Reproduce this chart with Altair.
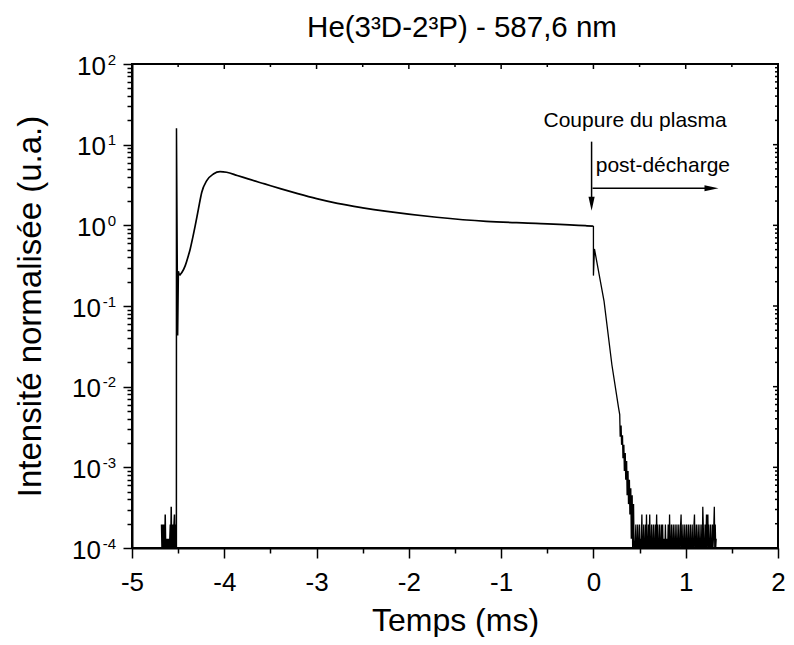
import altair as alt
import pandas as pd

# ---------------- data ----------------
TITLE = "He(3³D-2³P) - 587,6 nm"
X_TITLE = "Temps (ms)"
Y_TITLE = "Intensité normalisée (u.a.)"

X_MAJOR = [-5, -4, -3, -2, -1, 0, 1, 2]
X_MINOR = [-4.5, -3.5, -2.5, -1.5, -0.5, 0.5, 1.5]
Y_MAJOR = [1e2, 1e1, 1e0, 1e-1, 1e-2, 1e-3, 1e-4]
Y_EXP = ["2", "1", "0", "-1", "-2", "-3", "-4"]
Y_MINOR = [m * 10.0 ** d for d in range(-4, 2) for m in range(2, 10)]

# detector noise levels (quantised) and the level codes read per sample
NOISE_LEVELS = [1.0e-4, 1.3e-4, 1.95e-4, 2.6e-4, 3.25e-4]
PRE_T0, PRE_DT = -4.68, 0.005
PRE_CODES = "2020202030" "1010101012" "0402020230" "202"

# ignition spike
SPIKE_T = [-4.519, -4.518, -4.505, -4.497, -4.485]
SPIKE_V = [1.0e-4, 16.0, 0.043, 0.27, 0.24]

# smooth discharge signal
SMOOTH_T = [-4.485, -4.46, -4.423, -4.395, -4.369, -4.34, -4.315, -4.28, -4.244,
            -4.19, -4.118, -4.046, -3.975, -3.86, -3.742, -3.562, -3.384, -3.204,
            -3.0, -2.774, -2.5, -2.237, -1.699, -1.161, -0.624, -0.086, -0.005]
SMOOTH_V = [0.24, 0.26, 0.317, 0.40, 0.51, 0.72, 0.99, 1.6, 2.57,
            3.58, 4.33, 4.63, 4.55, 4.15, 3.76, 3.26, 2.83, 2.47,
            2.14, 1.87, 1.65, 1.49, 1.26, 1.12, 1.06, 0.99, 0.975]

# plasma cut-off and decay
CUT_T = [-0.005, 0.0, 0.0, 0.011, 0.115, 0.20, 0.272]
CUT_V = [0.975, 0.97, 0.238, 0.51, 0.115, 0.0187, 0.0055]
TAIL_T = [0.285, 0.29, 0.30, 0.305, 0.315, 0.32, 0.33, 0.335, 0.345, 0.35, 0.36,
          0.365, 0.375, 0.38, 0.39, 0.395, 0.405, 0.41, 0.42, 0.425, 0.435, 0.44]
TAIL_V = [4.5e-3, 2.4e-3, 3.3e-3, 1.9e-3, 2.5e-3, 1.3e-3, 1.9e-3, 9e-4, 1.5e-3, 7e-4, 1.2e-3,
          4.5e-4, 9e-4, 3.5e-4, 7e-4, 2.6e-4, 5.5e-4, 1.3e-4, 4.5e-4, 1e-4, 3.5e-4, 1e-4]
FLOOR_T0, FLOOR_DT = 0.45, 0.005
FLOOR_CODES = ("0120102010" "2010130102" "0102030102" "0130102010" "2010201302"
               "0102010201" "2010102010" "1020030102" "0102010201" "0201020102"
               "3010201020" "1020102010" "2010201023" "0102010201" "0201020420"
               "1020130230" "2010201020" "1240201")

# annotations
ANN_TEXT = ["Coupure du plasma", "post-décharge"]
ANN_X = [0.452, 0.025]
ANN_Y = [19.8, 5.5]
ARROW_DOWN = {"x": -0.02, "y1": 10.9, "y2": 1.8, "tip": 1.52}
ARROW_RIGHT = {"y": 2.88, "x1": -0.01, "x2": 1.29, "tip": 1.355}

# ---------------- build tables ----------------
pre_t = [PRE_T0 + k * PRE_DT for k in range(len(PRE_CODES))]
pre_v = [NOISE_LEVELS[int(c)] for c in PRE_CODES]
floor_t = [FLOOR_T0 + k * FLOOR_DT for k in range(len(FLOOR_CODES))]
floor_v = [NOISE_LEVELS[int(c)] for c in FLOOR_CODES]

t1 = pre_t + SPIKE_T
v1 = pre_v + SPIKE_V
df1 = pd.DataFrame({"t": t1, "v": v1, "i": range(len(t1))})
df2 = pd.DataFrame({"t": SMOOTH_T, "v": SMOOTH_V, "i": range(len(SMOOTH_T))})
t3 = CUT_T + TAIL_T + floor_t
v3 = CUT_V + TAIL_V + floor_v
df3 = pd.DataFrame({"t": t3, "v": v3, "i": range(len(t3))})

FONT = "Liberation Sans"
W, H = 646, 484
xs = alt.Scale(domain=[-5, 2], nice=False, zero=False)
ys = alt.Scale(type="log", domain=[1e-4, 100], nice=False, clamp=True)

MAJOR_Y_TEST = "abs(log(datum.value)/LN10 - round(log(datum.value)/LN10)) < 0.001"

x_axis = alt.Axis(
    values=X_MAJOR + X_MINOR,
    labelExpr="datum.value % 1 === 0 ? toString(datum.value) : ''",
    tickSize={"condition": {"test": "datum.value % 1 === 0", "value": 10}, "value": 5},
    tickWidth=1.5, tickColor="black", domainColor="black", domainWidth=2,
    labelFont=FONT, labelFontSize=26, labelColor="black", labelPadding=11,
    labelFlush=False, labelOverlap=False, labelBound=False, grid=False,
    title=X_TITLE, titleFont=FONT, titleFontSize=32, titleFontWeight="normal",
    titleColor="black", titleY=72.5, titleBaseline="middle",
)
y_axis = alt.Axis(
    values=Y_MAJOR + Y_MINOR, labels=False,
    tickSize={"condition": {"test": MAJOR_Y_TEST, "value": 9}, "value": 5},
    tickWidth=1.5, tickColor="black", domainColor="black", domainWidth=2, grid=False,
    title=Y_TITLE, titleFont=FONT, titleFontSize=33, titleFontWeight="normal",
    titleColor="black", titleX=-102, titleY=H / 2, titleAngle=270,
    titleBaseline="middle", titleAlign="center",
)


def X(field, **kw):
    return alt.X(field, scale=xs, axis=x_axis, **kw)


def Y(field, **kw):
    return alt.Y(field, scale=ys, axis=y_axis, **kw)


line1 = alt.Chart(df1).mark_line(color="black", strokeWidth=1.5).encode(
    x=X("t:Q"), y=Y("v:Q"), order="i:Q")
line2 = alt.Chart(df2).mark_line(color="black", strokeWidth=1.7, interpolate="monotone").encode(
    x=X("t:Q"), y=Y("v:Q"), order="i:Q")
line3 = alt.Chart(df3).mark_line(color="black", strokeWidth=1.3).encode(
    x=X("t:Q"), y=Y("v:Q"), order="i:Q")

# inward ticks on top and right
top_df = pd.DataFrame({"x": X_MAJOR + X_MINOR,
                       "major": [True] * len(X_MAJOR) + [False] * len(X_MINOR)})
top_major = alt.Chart(top_df).transform_filter("datum.major").mark_rule(
    color="black", strokeWidth=1.5).encode(x=X("x:Q"), y=alt.value(0), y2=alt.value(5))
top_minor = alt.Chart(top_df).transform_filter("!datum.major").mark_rule(
    color="black", strokeWidth=1.5).encode(x=X("x:Q"), y=alt.value(0), y2=alt.value(3))
right_df = pd.DataFrame({"y": Y_MAJOR + Y_MINOR,
                         "major": [True] * len(Y_MAJOR) + [False] * len(Y_MINOR)})
right_major = alt.Chart(right_df).transform_filter("datum.major").mark_rule(
    color="black", strokeWidth=1.5).encode(y=Y("y:Q"), x=alt.value(W), x2=alt.value(W - 5))
right_minor = alt.Chart(right_df).transform_filter("!datum.major").mark_rule(
    color="black", strokeWidth=1.5).encode(y=Y("y:Q"), x=alt.value(W), x2=alt.value(W - 3))

# y tick labels 10^n
ylab = pd.DataFrame({"v": Y_MAJOR, "e": Y_EXP})
exp_txt = alt.Chart(ylab).mark_text(font=FONT, fontSize=15, align="right",
                                    baseline="middle", dy=-4.5, color="black").encode(
    y=Y("v:Q"), x=alt.value(-16), text="e:N")
ten_pos = alt.Chart(ylab).transform_filter("indexof(datum.e, '-') < 0").mark_text(
    font=FONT, fontSize=26, align="right", baseline="middle", dy=2.5, color="black",
    text="10").encode(y=Y("v:Q"), x=alt.value(-26))
ten_neg = alt.Chart(ylab).transform_filter("indexof(datum.e, '-') >= 0").mark_text(
    font=FONT, fontSize=26, align="right", baseline="middle", dy=2.5, color="black",
    text="10").encode(y=Y("v:Q"), x=alt.value(-31))

# chart title as a text mark above the plot
title_df = pd.DataFrame({"label": [TITLE]})
title_txt = alt.Chart(title_df).mark_text(font=FONT, fontSize=29.5, align="center",
                                          baseline="alphabetic", color="black").encode(
    x=alt.value(W / 2 + 7), y=alt.value(-27), text="label:N")

# annotations
ann = pd.DataFrame({"x": ANN_X, "y": ANN_Y, "label": ANN_TEXT})
ann1 = alt.Chart(ann.iloc[[0]]).mark_text(font=FONT, fontSize=21, align="center",
                                           baseline="middle", color="black").encode(
    x=X("x:Q"), y=Y("y:Q"), text="label:N")
ann2 = alt.Chart(ann.iloc[[1]]).mark_text(font=FONT, fontSize=21, align="left",
                                           baseline="middle", color="black").encode(
    x=X("x:Q"), y=Y("y:Q"), text="label:N")

adown = pd.DataFrame([ARROW_DOWN])
aright = pd.DataFrame([ARROW_RIGHT])
shaft_down = alt.Chart(adown).mark_rule(color="black", strokeWidth=1.5).encode(
    x=X("x:Q"), y=Y("y1:Q"), y2="y2:Q")
head_down = alt.Chart(adown).mark_point(
    shape="M0,0L-0.22,-1L0.22,-1Z", filled=True, size=784, color="black", opacity=1).encode(
    x=X("x:Q"), y=Y("tip:Q"))
shaft_right = alt.Chart(aright).mark_rule(color="black", strokeWidth=1.5).encode(
    y=Y("y:Q"), x=X("x1:Q"), x2="x2:Q")
head_right = alt.Chart(aright).mark_point(
    shape="M0,0L-1,-0.22L-1,0.22Z", filled=True, size=784, color="black", opacity=1).encode(
    y=Y("y:Q"), x=X("tip:Q"))

chart = alt.layer(
    line1, line2, line3,
    top_major, top_minor, right_major, right_minor,
    exp_txt, ten_pos, ten_neg, title_txt,
    ann1, ann2, shaft_down, head_down, shaft_right, head_right,
).properties(
    width=W, height=H,
    autosize=alt.AutoSizeParams(type="none"),
    padding={"left": 124, "top": 56, "right": 8, "bottom": 89},
    background="white",
).configure_view(stroke="black", strokeWidth=2)

chart.save("out.html", embed_options={"renderer": "svg", "actions": False})
